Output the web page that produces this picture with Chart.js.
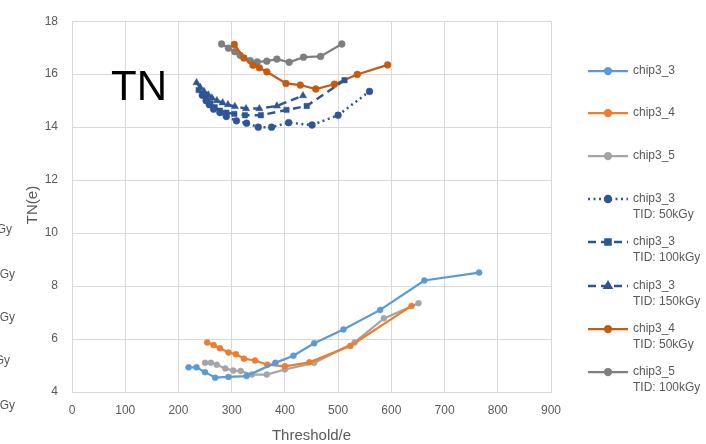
<!DOCTYPE html>
<html>
<head>
<meta charset="utf-8">
<script src="https://cdn.jsdelivr.net/npm/chart.js@4.4.1/dist/chart.umd.min.js"></script>
<style>
  html, body { margin: 0; padding: 0; background: #fff; }
  #wrap { width: 706px; height: 444px; position: relative; }
</style>
</head>
<body>
<div id="wrap"><canvas id="c" width="706" height="444"></canvas></div>
<script>
// Axis ticks
const xTicks = [0, 100, 200, 300, 400, 500, 600, 700, 800, 900];
const yTicks = [4, 6, 8, 10, 12, 14, 16, 18];

// chip3_3 (before irradiation)
const chip33X = [219, 234, 250, 269, 294, 328, 382, 416, 455, 510, 579, 662, 765];
const chip33Y = [4.93, 4.93, 4.75, 4.54, 4.57, 4.60, 5.10, 5.37, 5.84, 6.36, 7.10, 8.21, 8.51];

// chip3_4 (before irradiation)
const chip34X = [254, 266, 278, 294, 308, 323, 344, 367, 400, 446, 523, 638];
const chip34Y = [5.87, 5.77, 5.65, 5.49, 5.43, 5.26, 5.19, 5.03, 4.97, 5.12, 5.74, 7.25];

// chip3_5 (before irradiation)
const chip35X = [250, 261, 272, 288, 303, 317, 338, 366, 400, 455, 531, 586, 651];
const chip35Y = [5.10, 5.10, 5.03, 4.89, 4.81, 4.79, 4.66, 4.66, 4.85, 5.10, 5.87, 6.78, 7.35];

// chip3_3 after 50 kGy
const chip33T50X = [245, 252, 258, 266, 278, 290, 309, 328, 350, 375, 407, 451, 500, 559];
const chip33T50Y = [15.20, 15.00, 14.85, 14.68, 14.55, 14.40, 14.24, 14.15, 14.00, 14.00, 14.17, 14.08, 14.45, 15.35];

// chip3_3 after 100 kGy
const chip33T100X = [238, 245, 252, 260, 268, 278, 290, 305, 325, 355, 403, 441, 512];
const chip33T100Y = [15.40, 15.25, 15.05, 14.90, 14.75, 14.62, 14.55, 14.50, 14.45, 14.45, 14.65, 14.80, 15.77];

// chip3_3 after 150 kGy
const chip33T150X = [234, 241, 248, 256, 263, 272, 283, 293, 306, 327, 352, 385, 434];
const chip33T150Y = [15.68, 15.50, 15.35, 15.22, 15.10, 15.00, 14.92, 14.85, 14.78, 14.70, 14.70, 14.80, 15.19];

// chip3_4 after 50 kGy
const chip34T50X = [305, 323, 340, 352, 366, 402, 429, 458, 493, 536, 593];
const chip34T50Y = [17.12, 16.61, 16.34, 16.24, 16.09, 15.65, 15.59, 15.44, 15.62, 15.99, 16.35];

// chip3_5 after 100 kGy
const chip35T100X = [281, 294, 306, 316, 335, 348, 366, 385, 408, 435, 467, 507];
const chip35T100Y = [17.14, 16.98, 16.85, 16.71, 16.51, 16.46, 16.49, 16.57, 16.45, 16.64, 16.67, 17.14];

const legendLabels = [
  ['chip3_3'], ['chip3_4'], ['chip3_5'],
  ['chip3_3', 'TID: 50kGy'], ['chip3_3', 'TID: 100kGy'], ['chip3_3', 'TID: 150kGy'],
  ['chip3_4', 'TID: 50kGy'], ['chip3_5', 'TID: 100kGy']
];

function pts(xs, ys) { return xs.map((x, i) => ({ x: x, y: ys[i] })); }

function series(label, xs, ys, color, opts) {
  return Object.assign({
    label: label,
    data: pts(xs, ys),
    showLine: true,
    borderColor: color,
    backgroundColor: color,
    pointBackgroundColor: color,
    pointBorderColor: color,
    pointBorderWidth: 0.5,
    borderWidth: 2.25,
    pointRadius: 3,
    pointStyle: 'circle',
    borderDash: [],
    tension: 0
  }, opts || {});
}

const BLUE = '#5B9BD5', ORANGE = '#ED7D31', GRAY = '#A5A5A5';
const DBLUE = '#2F5597', DORANGE = '#C55A11', DGRAY = '#7F7F7F';

const datasets = [
  series('chip3_3', chip33X, chip33Y, BLUE),
  series('chip3_4', chip34X, chip34Y, ORANGE),
  series('chip3_5', chip35X, chip35Y, GRAY),
  series('chip3_3 TID: 50kGy', chip33T50X, chip33T50Y, DBLUE, { borderDash: [2, 3.5], borderWidth: 2.5, pointRadius: 3.4 }),
  series('chip3_3 TID: 100kGy', chip33T100X, chip33T100Y, DBLUE, { borderDash: [8, 5], borderWidth: 2.5, pointStyle: 'rect', pointRadius: 3.8 }),
  series('chip3_3 TID: 150kGy', chip33T150X, chip33T150Y, DBLUE, { borderDash: [8, 5], borderWidth: 2.5, pointStyle: 'triangle', pointRadius: 4.2 }),
  series('chip3_4 TID: 50kGy', chip34T50X, chip34T50Y, DORANGE, { pointRadius: 3.4 }),
  series('chip3_5 TID: 100kGy', chip35T100X, chip35T100Y, DGRAY, { pointRadius: 3.4 })
];

const FONT = '"Liberation Sans", "DejaVu Sans", sans-serif';
const TEXT = '#595959';
const legendRows = [71, 113, 156, 199, 242, 286, 329, 372];

// Titles, the "TN" tag, the clipped neighbouring legend and the series legend
const decorations = {
  id: 'decorations',
  afterDraw(chart) {
    const ctx = chart.ctx;
    const area = chart.chartArea;
    ctx.save();
    ctx.fillStyle = TEXT;
    ctx.font = '15px ' + FONT;
    ctx.textAlign = 'center';
    ctx.textBaseline = 'middle';
    ctx.fillText('Threshold/e', (area.left + area.right) / 2, 436);
    ctx.save();
    ctx.translate(33, 205);
    ctx.rotate(-Math.PI / 2);
    ctx.fillText('TN(e)', 0, 0);
    ctx.restore();

    ctx.fillStyle = '#000';
    ctx.font = '42px ' + FONT;
    ctx.textAlign = 'left';
    ctx.textBaseline = 'alphabetic';
    ctx.fillText('TN', 111, 100);

    // tail of the neighbouring chart's legend, cut at the page edge
    ctx.fillStyle = TEXT;
    ctx.font = '12px ' + FONT;
    ctx.textAlign = 'right';
    ctx.textBaseline = 'middle';
    [[230, 12], [275, 15], [318, 15], [361, 10], [406, 15]].forEach(([y, x]) => {
      ctx.fillText('kGy', x, y);
    });

    // series legend
    chart.data.datasets.forEach((ds, i) => {
      const y = legendRows[i];
      ctx.save();
      ctx.strokeStyle = ds.borderColor;
      ctx.fillStyle = ds.borderColor;
      ctx.lineWidth = ds.borderWidth;
      ctx.setLineDash(ds.borderDash);
      ctx.beginPath();
      ctx.moveTo(588, y);
      ctx.lineTo(628, y);
      ctx.stroke();
      ctx.setLineDash([]);
      Chart.helpers.drawPoint(ctx, {
        pointStyle: ds.pointStyle,
        radius: ds.pointStyle === 'circle' ? 3 : 3.6,
        rotation: 0,
        borderWidth: 0.5
      }, 608, y);
      ctx.restore();
      ctx.fillStyle = TEXT;
      ctx.font = '12px ' + FONT;
      ctx.textAlign = 'left';
      ctx.textBaseline = 'middle';
      legendLabels[i].forEach((t, k) => ctx.fillText(t, 633, y + k * 16));
    });
    ctx.restore();
  }
};

new Chart(document.getElementById('c'), {
  type: 'scatter',
  data: { datasets: datasets },
  options: {
    responsive: false,
    animation: false,
    devicePixelRatio: 1,
    layout: { padding: { top: 14, right: 155, left: 0, bottom: 0 } },
    plugins: { legend: { display: false }, tooltip: { enabled: false } },
    scales: {
      x: {
        type: 'linear',
        min: 0, max: 900,
        afterBuildTicks(s) { s.ticks = xTicks.map(v => ({ value: v })); },
        afterFit(s) { s.height = 52; },
        grid: { color: '#D9D9D9', lineWidth: 1, drawTicks: false },
        border: { color: '#D9D9D9' },
        ticks: { color: TEXT, font: { family: FONT, size: 12 }, padding: 11, maxRotation: 0 }
      },
      y: {
        type: 'linear',
        min: 4, max: 18,
        afterBuildTicks(s) { s.ticks = yTicks.map(v => ({ value: v })); },
        afterFit(s) { s.width = 72; },
        grid: { color: '#D9D9D9', lineWidth: 1, drawTicks: false },
        border: { color: '#D9D9D9' },
        ticks: { color: TEXT, font: { family: FONT, size: 12 }, padding: 14 }
      }
    }
  },
  plugins: [decorations]
});
</script>
</body>
</html>
